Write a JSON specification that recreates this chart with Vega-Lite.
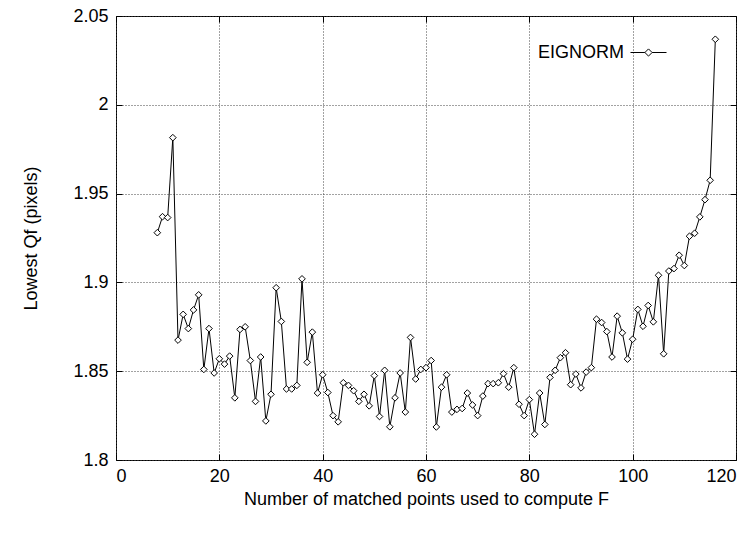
{
  "$schema": "https://vega.github.io/schema/vega-lite/v6.json",
  "width": 620,
  "height": 444,
  "autosize": {"type": "none"},
  "padding": {"left": 116, "top": 16, "right": 10, "bottom": 80},
  "background": "white",
  "config": {
    "font": "Liberation Sans",
    "view": {"stroke": "black", "strokeWidth": 1},
    "axis": {
      "labelFont": "Liberation Sans",
      "titleFont": "Liberation Sans",
      "labelFontSize": 18,
      "titleFontSize": 18,
      "titleFontWeight": "normal",
      "labelColor": "black",
      "titleColor": "black",
      "domain": false,
      "tickColor": "black",
      "gridColor": "#444444",
      "gridDash": [1, 2],
      "gridWidth": 1
    },
    "legend": {"labelFont": "Liberation Sans", "labelFontSize": 18, "labelColor": "black"}
  },
  "data": {
    "values": [
      {"n": 8, "q": 1.928}, {"n": 9, "q": 1.937}, {"n": 10, "q": 1.9365}, {"n": 11, "q": 1.9815},
      {"n": 12, "q": 1.8675}, {"n": 13, "q": 1.882}, {"n": 14, "q": 1.874}, {"n": 15, "q": 1.8845},
      {"n": 16, "q": 1.893}, {"n": 17, "q": 1.851}, {"n": 18, "q": 1.874}, {"n": 19, "q": 1.849},
      {"n": 20, "q": 1.857}, {"n": 21, "q": 1.854}, {"n": 22, "q": 1.8585}, {"n": 23, "q": 1.835},
      {"n": 24, "q": 1.8735}, {"n": 25, "q": 1.875}, {"n": 26, "q": 1.856}, {"n": 27, "q": 1.833},
      {"n": 28, "q": 1.858}, {"n": 29, "q": 1.822}, {"n": 30, "q": 1.837}, {"n": 31, "q": 1.897},
      {"n": 32, "q": 1.878}, {"n": 33, "q": 1.84}, {"n": 34, "q": 1.84}, {"n": 35, "q": 1.842},
      {"n": 36, "q": 1.902}, {"n": 37, "q": 1.855}, {"n": 38, "q": 1.872}, {"n": 39, "q": 1.8377},
      {"n": 40, "q": 1.848}, {"n": 41, "q": 1.838}, {"n": 42, "q": 1.825}, {"n": 43, "q": 1.8215},
      {"n": 44, "q": 1.8435}, {"n": 45, "q": 1.842}, {"n": 46, "q": 1.839}, {"n": 47, "q": 1.833},
      {"n": 48, "q": 1.837}, {"n": 49, "q": 1.8305}, {"n": 50, "q": 1.8475}, {"n": 51, "q": 1.8245},
      {"n": 52, "q": 1.8505}, {"n": 53, "q": 1.8187}, {"n": 54, "q": 1.835}, {"n": 55, "q": 1.849},
      {"n": 56, "q": 1.827}, {"n": 57, "q": 1.869}, {"n": 58, "q": 1.8456}, {"n": 59, "q": 1.851},
      {"n": 60, "q": 1.852}, {"n": 61, "q": 1.856}, {"n": 62, "q": 1.8186}, {"n": 63, "q": 1.841},
      {"n": 64, "q": 1.848}, {"n": 65, "q": 1.827}, {"n": 66, "q": 1.8285}, {"n": 67, "q": 1.829},
      {"n": 68, "q": 1.8377}, {"n": 69, "q": 1.831}, {"n": 70, "q": 1.825}, {"n": 71, "q": 1.836},
      {"n": 72, "q": 1.843}, {"n": 73, "q": 1.843}, {"n": 74, "q": 1.8435}, {"n": 75, "q": 1.8486},
      {"n": 76, "q": 1.841}, {"n": 77, "q": 1.852}, {"n": 78, "q": 1.8314}, {"n": 79, "q": 1.825},
      {"n": 80, "q": 1.834}, {"n": 81, "q": 1.8145}, {"n": 82, "q": 1.8377}, {"n": 83, "q": 1.82},
      {"n": 84, "q": 1.8465}, {"n": 85, "q": 1.8505}, {"n": 86, "q": 1.8576}, {"n": 87, "q": 1.8604},
      {"n": 88, "q": 1.8424}, {"n": 89, "q": 1.8484}, {"n": 90, "q": 1.8406}, {"n": 91, "q": 1.8495},
      {"n": 92, "q": 1.852}, {"n": 93, "q": 1.8793}, {"n": 94, "q": 1.8774}, {"n": 95, "q": 1.8723},
      {"n": 96, "q": 1.858}, {"n": 97, "q": 1.881}, {"n": 98, "q": 1.8716}, {"n": 99, "q": 1.8568},
      {"n": 100, "q": 1.868}, {"n": 101, "q": 1.8848}, {"n": 102, "q": 1.8753}, {"n": 103, "q": 1.887},
      {"n": 104, "q": 1.8778}, {"n": 105, "q": 1.904}, {"n": 106, "q": 1.8598}, {"n": 107, "q": 1.9064},
      {"n": 108, "q": 1.9078}, {"n": 109, "q": 1.9153}, {"n": 110, "q": 1.9095}, {"n": 111, "q": 1.926},
      {"n": 112, "q": 1.9277}, {"n": 113, "q": 1.9369}, {"n": 114, "q": 1.9466}, {"n": 115, "q": 1.9575},
      {"n": 116, "q": 2.0369}
    ]
  },
  "layer": [
    {
      "mark": {"type": "line", "color": "black", "strokeWidth": 1},
      "encoding": {
        "x": {"field": "n", "type": "quantitative", "scale": {"domain": [0, 120], "nice": false, "zero": false},
              "axis": {"orient": "top", "values": [0, 20, 40, 60, 80, 100, 120], "labels": false, "title": null, "grid": false, "tickSize": -6}},
        "y": {"field": "q", "type": "quantitative", "scale": {"domain": [1.8, 2.05], "nice": false, "zero": false},
              "axis": {"orient": "right", "values": [1.8, 1.85, 1.9, 1.95, 2.0, 2.05], "labels": false, "title": null, "grid": false, "tickSize": -6}}
      }
    },
    {
      "mark": {"type": "point", "shape": "diamond", "filled": true, "fill": "white", "size": 44, "strokeWidth": 1, "opacity": 1},
      "encoding": {
        "x": {"field": "n", "type": "quantitative",
              "axis": {"orient": "bottom", "values": [0, 20, 40, 60, 80, 100, 120], "format": "d", "grid": true, "tickSize": -6, "labelPadding": 13, "title": "Number of matched points used to compute F", "titlePadding": 5}},
        "y": {"field": "q", "type": "quantitative",
              "axis": {"orient": "left", "values": [1.8, 1.85, 1.9, 1.95, 2.0, 2.05], "format": "~g", "grid": true, "tickSize": -6, "labelPadding": 14, "title": "Lowest Qf (pixels)", "titlePadding": 32}},
        "stroke": {"datum": "EIGNORM", "type": "nominal", "scale": {"range": ["black"]},
                   "legend": {"title": null, "orient": "none", "legendX": 514, "legendY": 18, "symbolType": "M-1,0H-0.2M0.2,0H1M-0.2,0L0,-0.2L0.2,0L0,0.2Z", "symbolSize": 1296, "symbolStrokeWidth": 1, "symbolFillColor": "white", "symbolStrokeColor": "black", "labelAlign": "right", "labelOffset": -43}}
      }
    }
  ],
  "resolve": {"axis": {"x": "independent", "y": "independent"}}
}
